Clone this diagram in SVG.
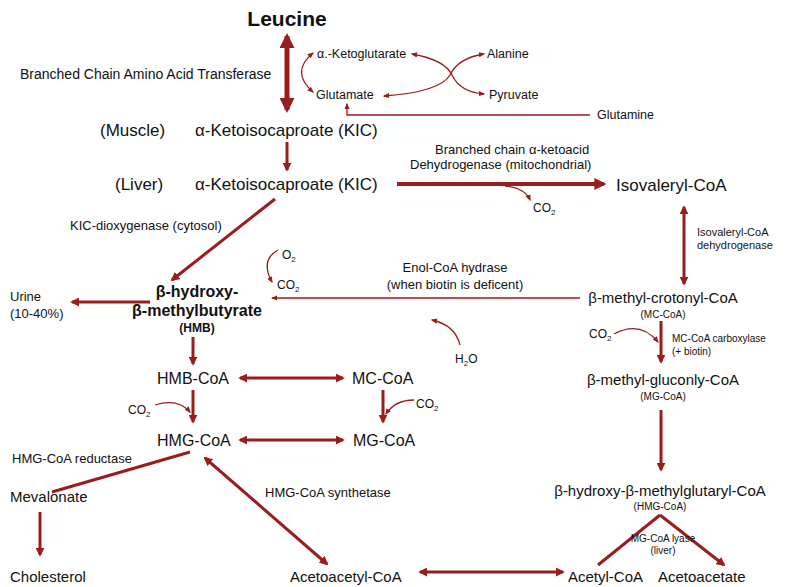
<svg xmlns="http://www.w3.org/2000/svg" width="792" height="587" viewBox="0 0 792 587">
<style>
text{font-family:"Liberation Sans",Arial,sans-serif;fill:#111}
.m{font-size:15px}.s{font-size:12px}.xs{font-size:10px}.b{font-weight:bold}
.a{stroke:#9b1c1c;fill:none}
.t{stroke-width:4}.n{stroke-width:3}.h{stroke-width:1.3}
</style>
<defs>
<marker id="ah" viewBox="0 0 10 10" refX="8" refY="5" markerWidth="3" markerHeight="3" orient="auto-start-reverse"><path d="M0,0L10,5L0,10z" fill="#9b1c1c"/></marker>
<marker id="ahs" viewBox="0 0 10 10" refX="8" refY="5" markerWidth="5" markerHeight="5" orient="auto-start-reverse"><path d="M0,1L10,5L0,9z" fill="#9b1c1c"/></marker>
</defs>
<rect width="792" height="587" fill="#fff"/>
<g id="connectors">
<path class="a" stroke-width="5" d="M287,36V110" marker-start="url(#ah)" marker-end="url(#ah)"/>
<path class="a h" d="M313,53Q290,72 313,92" marker-start="url(#ahs)" marker-end="url(#ahs)"/>
<path class="a h" d="M412,54Q445,60 452,75Q460,92 484,94" marker-start="url(#ahs)" marker-end="url(#ahs)"/>
<path class="a h" d="M384,96Q440,92 450,75Q458,58 484,54" marker-start="url(#ahs)" marker-end="url(#ahs)"/>
<path class="a h" d="M590,115H347V104" marker-end="url(#ahs)"/>
<path class="a n" d="M287,142V170" marker-end="url(#ah)"/>
<path class="a t" d="M397,184H604" marker-end="url(#ah)"/>
<path class="a h" d="M505,186Q525,188 530,200" marker-end="url(#ahs)"/>
<path class="a n" d="M684,207V284" marker-start="url(#ah)" marker-end="url(#ah)"/>
<path class="a n" d="M275,199L172,280" marker-end="url(#ah)"/>
<path class="a h" d="M278,250Q260,260 272,282" marker-end="url(#ahs)"/>
<path class="a n" d="M150,302H72" marker-end="url(#ah)"/>
<path class="a h" d="M580,298H272" marker-end="url(#ahs)"/>
<path class="a h" d="M460,345Q455,325 432,320" marker-end="url(#ahs)"/>
<path class="a n" d="M661,321V362" marker-end="url(#ah)"/>
<path class="a h" d="M614,334Q640,320 658,342" marker-end="url(#ahs)"/>
<path class="a n" d="M661,410V470" marker-end="url(#ah)"/>
<path class="a n" d="M193,337V364" marker-end="url(#ah)"/>
<path class="a n" d="M240,378H343" marker-start="url(#ah)" marker-end="url(#ah)"/>
<path class="a n" d="M193,390V422" marker-end="url(#ah)"/>
<path class="a h" d="M155,405Q178,398 190,412" marker-end="url(#ahs)"/>
<path class="a n" d="M383,390V422" marker-end="url(#ah)"/>
<path class="a h" d="M414,400Q395,400 386,414" marker-end="url(#ahs)"/>
<path class="a n" d="M240,440H343" marker-start="url(#ah)" marker-end="url(#ah)"/>
<path class="a n" d="M190,452L52,492"/>
<path class="a n" d="M40,512V555" marker-end="url(#ah)"/>
<path class="a n" d="M205,458L327,564" marker-start="url(#ah)" marker-end="url(#ah)"/>
<path class="a n" d="M420,572H563" marker-start="url(#ah)" marker-end="url(#ah)"/>
<path class="a n" d="M660,515L598,565M660,515L724,565" marker-end="url(#ah)"/>
</g>
<g id="leucine"><text x="287" y="26" text-anchor="middle" class="b" font-size="21">Leucine</text></g>
<g id="bcat"><text x="20" y="79" font-size="14">Branched Chain Amino Acid Transferase</text></g>
<g id="akg"><text x="317" y="58" font-size="12.5">α.-Ketoglutarate</text></g>
<g id="glu"><text x="316" y="99" font-size="12.5">Glutamate</text></g>
<g id="ala"><text x="487" y="58" font-size="12.5">Alanine</text></g>
<g id="pyr"><text x="489" y="99" font-size="12.5">Pyruvate</text></g>
<g id="gln"><text x="597" y="119" font-size="12.5">Glutamine</text></g>
<g id="kicm"><text x="100" y="136" font-size="17">(Muscle)</text><text x="195" y="136" font-size="17">α-Ketoisocaproate (KIC)</text></g>
<g id="kicl"><text x="115" y="190" font-size="17">(Liver)</text><text x="195" y="190" font-size="17">α-Ketoisocaproate (KIC)</text></g>
<g id="bckd"><text x="435" y="154" font-size="13">Branched chain  α-ketoacid</text><text x="410" y="169" font-size="13">Dehydrogenase (mitochondrial)</text></g>
<g id="co2a"><text x="533" y="212" class="s">CO<tspan font-size="8" dy="3">2</tspan></text></g>
<g id="iso"><text x="616" y="191" font-size="17">Isovaleryl-CoA</text></g>
<g id="ivd"><text x="697" y="236" font-size="11">Isovaleryl-CoA</text><text x="697" y="249" font-size="11">dehydrogenase</text></g>
<g id="kicd"><text x="70" y="230" font-size="13">KIC-dioxygenase (cytosol)</text></g>
<g id="o2"><text x="282" y="259" class="s">O<tspan font-size="8" dy="3">2</tspan></text><text x="277" y="289" class="s">CO<tspan font-size="8" dy="3">2</tspan></text></g>
<g id="hmb"><text x="197" y="297" text-anchor="middle" font-size="16" class="b">β-hydroxy-</text><text x="197" y="316" text-anchor="middle" font-size="16" class="b">β-methylbutyrate</text><text x="197" y="332" text-anchor="middle" class="s b">(HMB)</text></g>
<g id="urine"><text x="10" y="301" font-size="13">Urine</text><text x="10" y="318" font-size="13">(10-40%)</text></g>
<g id="enol"><text x="455" y="272" text-anchor="middle" font-size="13">Enol-CoA hydrase</text><text x="455" y="289" text-anchor="middle" font-size="13">(when biotin is deficent)</text></g>
<g id="h2o"><text x="455" y="363" class="s">H<tspan font-size="8" dy="3">2</tspan><tspan dy="-3">O</tspan></text></g>
<g id="mccoa"><text x="663" y="303" text-anchor="middle" class="m">β-methyl-crotonyl-CoA</text><text x="663" y="318" text-anchor="middle" class="xs">(MC-CoA)</text></g>
<g id="mcc"><text x="589" y="338" class="s">CO<tspan font-size="8" dy="3">2</tspan></text><text x="672" y="342" class="xs">MC-CoA carboxylase</text><text x="672" y="355" class="xs">(+ biotin)</text></g>
<g id="mgcoa"><text x="663" y="385" text-anchor="middle" class="m">β-methyl-gluconly-CoA</text><text x="663" y="400" text-anchor="middle" class="xs">(MG-CoA)</text></g>
<g id="hmgr"><text x="660" y="496" text-anchor="middle" class="m">β-hydroxy-β-methylglutaryl-CoA</text><text x="660" y="510" text-anchor="middle" class="xs">(HMG-CoA)</text></g>
<g id="lyase"><text x="663" y="542" text-anchor="middle" class="xs">MG-CoA lyase</text><text x="663" y="554" text-anchor="middle" class="xs">(liver)</text></g>
<g id="acetyl"><text x="568" y="582" class="m">Acetyl-CoA</text></g>
<g id="acac"><text x="658" y="582" class="m">Acetoacetate</text></g>
<g id="acacoa"><text x="290" y="582" class="m">Acetoacetyl-CoA</text></g>
<g id="hmbcoa"><text x="157" y="384" font-size="16">HMB-CoA</text></g>
<g id="mc2"><text x="352" y="384" font-size="16">MC-CoA</text></g>
<g id="co2b"><text x="128" y="414" class="s">CO<tspan font-size="8" dy="3">2</tspan></text><text x="416" y="408" class="s">CO<tspan font-size="8" dy="3">2</tspan></text></g>
<g id="hmgcoa"><text x="157" y="446" font-size="16">HMG-CoA</text></g>
<g id="mg2"><text x="353" y="446" font-size="16">MG-CoA</text></g>
<g id="red"><text x="12" y="463" font-size="13">HMG-CoA reductase</text></g>
<g id="mev"><text x="10" y="502" class="m">Mevalonate</text></g>
<g id="chol"><text x="10" y="582" class="m">Cholesterol</text></g>
<g id="syn"><text x="265" y="497" font-size="13">HMG-CoA synthetase</text></g>
</svg>
